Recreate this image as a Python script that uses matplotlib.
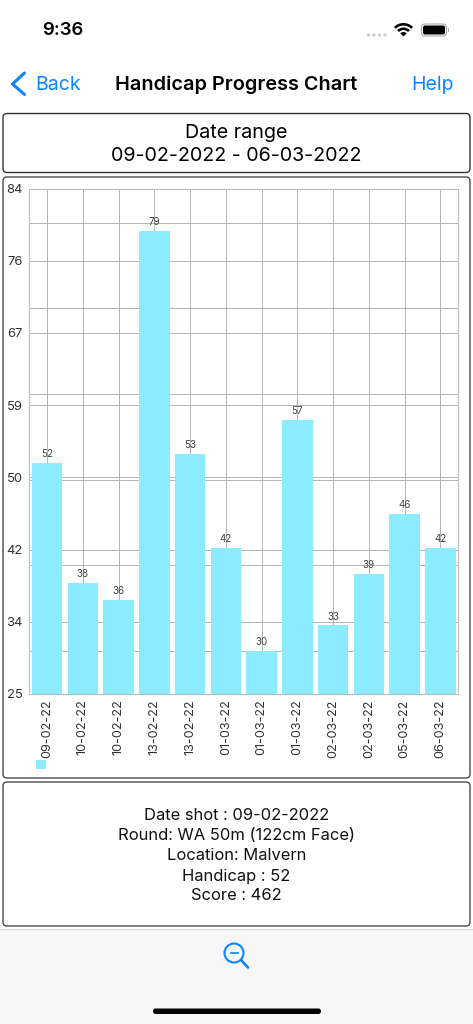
import matplotlib
matplotlib.use("Agg")
import matplotlib.pyplot as plt
from matplotlib.patches import Circle, FancyBboxPatch, Rectangle, Wedge

plt.rcParams['font.family'] = ['Inter', 'DejaVu Sans']

dates = ["09-02-22", "10-02-22", "10-02-22", "13-02-22", "13-02-22", "01-03-22",
         "01-03-22", "01-03-22", "02-03-22", "02-03-22", "05-03-22", "06-03-22"]
handicaps = [52, 38, 36, 79, 53, 42, 30, 57, 33, 39, 46, 42]

y_ticks = [25, 33.43, 41.86, 50.29, 58.71, 67.14, 75.57, 84]
y_labels = ["25", "34", "42", "50", "59", "67", "76", "84"]
extra_grid = [30, 40, 50, 60, 70, 80]

info_lines = ["Date shot : 09-02-2022", "Round: WA 50m (122cm Face)", "Location: Malvern",
              "Handicap : 52", "Score : 462"]

BLUE = "#0A84FF"
BAR = "#8CEBFF"
GRID = "#b4b4b4"
W, H = 473, 1024

fig = plt.figure(figsize=(W / 100, H / 100), dpi=100, facecolor="white")

# everything around the chart is drawn in pixel coords on a full size axes
ui = fig.add_axes([0, 0, 1, 1])
ui.set_xlim(0, W)
ui.set_ylim(H, 0)
ui.axis("off")

# status bar
ui.text(63, 30.5, "9:36", fontsize=13.4, fontweight="semibold", color="black", ha="center", va="center")
for x in [368.5, 374, 379.5, 385]:
    ui.add_patch(Circle((x, 35), 1.7, color="#cfcfcf", lw=0))
for r_out, r_width in [(13.5, 2.6), (9, 2.6), (4.5, 4.5)]:
    ui.add_patch(Wedge((403.5, 36.5), r_out, 225, 315, width=r_width, color="black", lw=0))
ui.add_patch(FancyBboxPatch((421.5, 24), 25, 12, boxstyle="round,pad=0,rounding_size=3.5",
                            fc="white", ec="#a8a8a8", lw=0.8))
ui.add_patch(FancyBboxPatch((423, 25.5), 22, 9, boxstyle="round,pad=0,rounding_size=2",
                            fc="black", ec="none"))
ui.add_patch(Rectangle((448, 28), 1.3, 4, fc="#a8a8a8", ec="none"))

# navigation bar
ui.plot([24.5, 12.5, 24.5], [73, 84, 94.5], color=BLUE, lw=2.2, solid_capstyle="round", solid_joinstyle="round")
ui.text(58, 84.5, "Back", fontsize=14, color=BLUE, ha="center", va="center")
ui.text(236.5, 84.5, "Handicap Progress Chart", fontsize=14.3, fontweight="semibold", color="black",
        ha="center", va="center")
ui.text(432, 84.5, "Help", fontsize=14, color=BLUE, ha="center", va="center")

# panels
for top, bottom, edge in [(113.5, 172.5, "#333333"), (177, 778, "#4a4a4a"), (782, 926, "#4a4a4a")]:
    ui.add_patch(FancyBboxPatch((3, top), 467, bottom - top, boxstyle="round,pad=0,rounding_size=4",
                                fc="white", ec=edge, lw=1.0))

ui.text(236.5, 132.5, "Date range", fontsize=14.2, color="black", ha="center", va="center")
ui.text(236.5, 156, "09-02-2022 - 06-03-2022", fontsize=14.2, color="black", ha="center", va="center")

for y, line in zip([815, 835, 855, 876, 896], info_lines):
    ui.text(236.5, y, line, fontsize=11.9, color="#111111", ha="center", va="center")

# legend swatch, no label in the app
ui.add_patch(Rectangle((36, 759.5), 9.5, 9.5, fc=BAR, ec="none"))

# bottom toolbar
ui.add_patch(Rectangle((0, 929), W, H - 929, fc="#f7f7f7", ec="none"))
ui.plot([0, W], [929, 929], color="#d4d4d4", lw=0.8)
ui.add_patch(Circle((234, 953), 9.5, fc="none", ec=BLUE, lw=1.5))
ui.plot([241, 248], [960, 967.5], color=BLUE, lw=1.9, solid_capstyle="round")
ui.plot([230.5, 237.5], [953, 953], color=BLUE, lw=1.2)
ui.add_patch(FancyBboxPatch((153, 1008.5), 168, 5.5, boxstyle="round,pad=0,rounding_size=2.7",
                            fc="black", ec="none"))

# the chart itself
ax = fig.add_axes([29.2 / W, 1 - 694 / H, 429 / W, 505.5 / H], zorder=2)
ax.patch.set_alpha(0)

positions = list(range(len(handicaps)))
for v in y_ticks[1:-1] + extra_grid:
    ax.axhline(v, color=GRID, lw=0.7, zorder=1)
for x in positions:
    ax.axvline(x, color=GRID, lw=0.7, zorder=1)

bars = ax.bar(positions, [v - 25 for v in handicaps], bottom=25, width=0.85, color=BAR, zorder=2)
for bar, v in zip(bars, handicaps):
    ax.text(bar.get_x() + bar.get_width() / 2, v + 0.45, str(v), fontsize=7, color="#444444",
            ha="center", va="bottom", zorder=3)

ax.set_xlim(-0.5, 11.5)
ax.set_ylim(25, 84)
ax.set_yticks(y_ticks)
ax.set_yticklabels(y_labels, fontsize=9.4, color="#333333")
ax.set_xticks(positions)
ax.set_xticklabels(dates, rotation=90, fontsize=9.1, color="#333333")
ax.tick_params(axis="both", length=0)
ax.tick_params(axis="y", pad=4.5)
ax.tick_params(axis="x", pad=4)
for spine in ax.spines.values():
    spine.set_color("#bdbdbd")
    spine.set_linewidth(0.8)

fig.savefig("out.png", dpi=100)
plt.close(fig)
